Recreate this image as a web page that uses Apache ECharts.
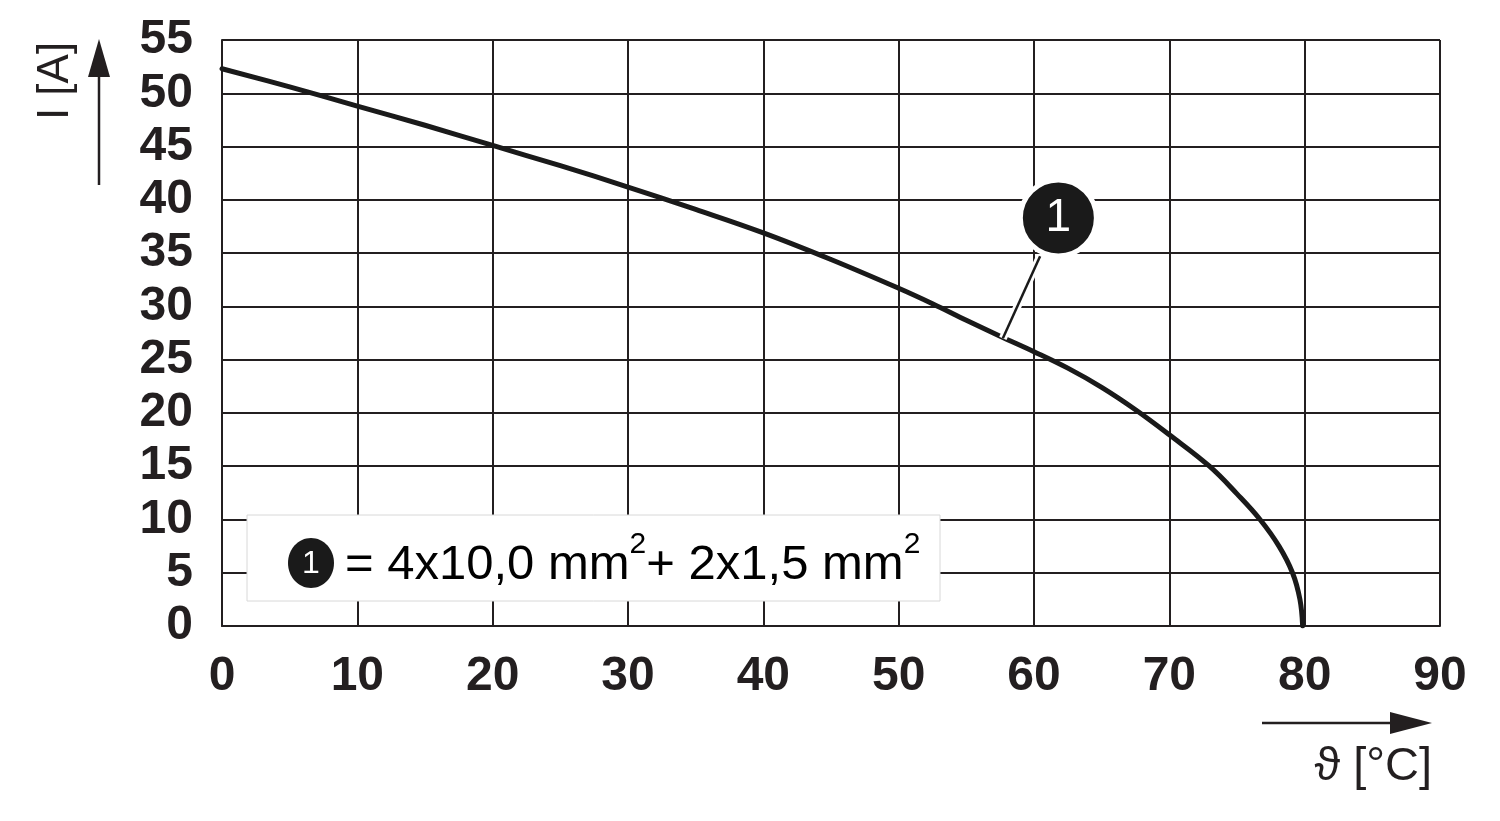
<!DOCTYPE html>
<html>
<head>
<meta charset="utf-8">
<script src="https://cdn.jsdelivr.net/npm/echarts@6/dist/echarts.min.js"></script>
<style>
html,body{margin:0;padding:0;background:#fff;}
#chart{width:1500px;height:821px;}
</style>
</head>
<body>
<div id="chart"></div>
<script>
// Temperature (°C) and current (A) of the derating curve
const temps    = [0, 5, 10, 15, 20, 25, 30, 35, 40, 45, 50, 52.5, 55, 57.5, 60, 62.5, 65, 67.5, 70, 72.96, 75, 76.7, 78.1, 79.1, 79.65, 79.85];
const currents = [52.3, 50.6, 48.8, 47.0, 45.1, 43.2, 41.2, 39.1, 36.9, 34.4, 31.7, 30.25, 28.7, 27.2, 25.75, 24.2, 22.4, 20.3, 17.95, 15.0, 12.4, 10.0, 7.5, 5.0, 2.5, 0];
const xTicks = [0, 10, 20, 30, 40, 50, 60, 70, 80, 90];
const yTicks = [0, 5, 10, 15, 20, 25, 30, 35, 40, 45, 50, 55];
// Callout "1": leader from curve to the bubble (data coordinates)
const leaderFrom = [57.7, 27.0];
const leaderTo   = [60.45, 34.7];
const calloutAt  = [61.8, 38.3];
const calloutText = '1';
const legendText = ['= 4x10,0 mm', '2', '+ 2x1,5 mm', '2'];
const xName = 'ϑ [°C]';
const yName = 'I [A]';

const ink = '#231f20';
const font = '"Liberation Sans", Arial, Helvetica, sans-serif';

const chart = echarts.init(document.getElementById('chart'), null, {renderer: 'canvas'});

const curve = temps.map((t, i) => [t, currents[i]]);

chart.setOption({
  animation: false,
  backgroundColor: '#fff',
  grid: {left: 222, right: 60, top: 40, bottom: 195, containLabel: false},
  xAxis: {
    type: 'value', min: xTicks[0], max: xTicks[xTicks.length - 1], interval: 10,
    axisLine: {show: true, lineStyle: {color: ink, width: 2}},
    axisTick: {show: false},
    splitLine: {show: true, lineStyle: {color: ink, width: 2}},
    axisLabel: {color: ink, fontFamily: font, fontWeight: 'bold', fontSize: 48, margin: 27}
  },
  yAxis: {
    type: 'value', min: yTicks[0], max: yTicks[yTicks.length - 1], interval: 5,
    axisLine: {show: true, lineStyle: {color: ink, width: 2}},
    axisTick: {show: false},
    splitLine: {show: true, lineStyle: {color: ink, width: 2}},
    axisLabel: {color: ink, fontFamily: font, fontWeight: 'bold', fontSize: 48, margin: 29}
  },
  series: [
    {
      type: 'line', data: curve, smooth: 0.4, showSymbol: false,
      lineStyle: {color: '#1a1a1a', width: 5, cap: 'round', join: 'round'}, z: 3
    },
    {
      type: 'line', data: [leaderFrom, leaderTo], showSymbol: false,
      lineStyle: {color: '#fff', width: 8}, z: 4
    },
    {
      type: 'line', data: [leaderFrom, leaderTo], showSymbol: false,
      lineStyle: {color: '#1a1a1a', width: 2.5}, z: 5
    },
    {
      type: 'scatter', data: [calloutAt], symbol: 'circle', symbolSize: 76, z: 6,
      itemStyle: {color: '#1a1a1a', borderColor: '#fff', borderWidth: 5, opacity: 1},
      label: {show: true, position: 'inside', formatter: calloutText, color: '#fff', fontFamily: font, fontSize: 46}
    }
  ],
  graphic: [
    // Y axis name and arrow
    {type: 'text', x: 56, y: 81, rotation: Math.PI / 2,
      style: {text: yName, font: '44px ' + font, fill: ink, align: 'center', verticalAlign: 'middle'}},
    {type: 'line', shape: {x1: 99, y1: 185, x2: 99, y2: 70}, style: {stroke: ink, lineWidth: 2.5}},
    {type: 'polygon', shape: {points: [[99, 39], [88, 77], [110, 77]]}, style: {fill: ink}},
    // X axis name and arrow
    {type: 'line', shape: {x1: 1262, y1: 723, x2: 1400, y2: 723}, style: {stroke: ink, lineWidth: 2.5}},
    {type: 'polygon', shape: {points: [[1432, 723], [1390, 712], [1390, 734]]}, style: {fill: ink}},
    {type: 'text', x: 1432, y: 767,
      style: {text: xName, font: '47px ' + font, fill: ink, align: 'right', verticalAlign: 'middle'}},
    // Legend box
    {type: 'rect', shape: {x: 247, y: 515, width: 693, height: 86}, style: {fill: '#fff', stroke: '#d8d8d8', lineWidth: 1}, z: 10},
    {type: 'ellipse', shape: {cx: 311, cy: 563, rx: 23, ry: 25}, style: {fill: '#1a1a1a'}, z: 11},
    {type: 'text', x: 311, y: 564, z: 12,
      style: {text: calloutText, font: '32px ' + font, fill: '#fff', align: 'center', verticalAlign: 'middle'}},
    {type: 'text', x: 345, y: 560, z: 12,
      style: {
        text: '{a|' + legendText[0] + '}{s|' + legendText[1] + '}{a|' + legendText[2] + '}{s|' + legendText[3] + '}',
        verticalAlign: 'middle', align: 'left',
        rich: {
          a: {fontFamily: font, fontSize: 49, color: ink, lineHeight: 60, verticalAlign: 'bottom'},
          s: {fontFamily: font, fontSize: 30, color: ink, lineHeight: 60, verticalAlign: 'top'}
        }
      }}
  ]
});
</script>
</body>
</html>
